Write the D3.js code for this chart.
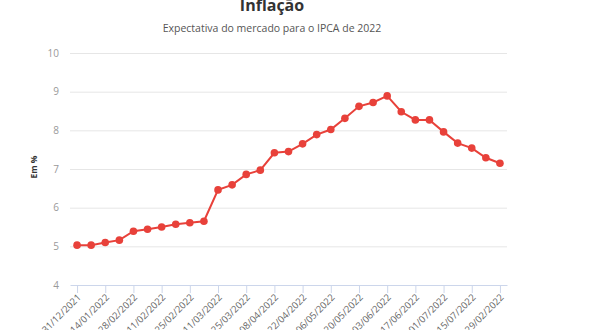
<!DOCTYPE html>
<html>
<head>
<meta charset="utf-8">
<script src="https://cdn.jsdelivr.net/npm/d3@7"></script>
<style>
  html, body { margin: 0; padding: 0; background: #fff; }
  svg { display: block; font-family: "Open Sans", sans-serif; }
</style>
</head>
<body>
<svg id="chart" width="590" height="330"></svg>
<script>
const tickLabels = ["31/12/2021","14/01/2022","28/02/2022","11/02/2022","25/02/2022","11/03/2022","25/03/2022","08/04/2022","22/04/2022","06/05/2022","20/05/2022","03/06/2022","17/06/2022","01/07/2022","15/07/2022","29/02/2022"];
const values = [5.03,5.03,5.10,5.16,5.39,5.44,5.50,5.57,5.61,5.65,6.46,6.59,6.86,6.97,7.42,7.45,7.65,7.89,8.02,8.31,8.62,8.72,8.89,8.48,8.27,8.27,7.96,7.67,7.54,7.29,7.15];
const yTicks = [4,5,6,7,8,9,10];
const title = "Inflação";
const subtitle = "Expectativa do mercado para o IPCA de 2022";
const yLabel = "Em %";

(function () {
const svg = d3.select("#chart");
const pLeft = 70, pRight = 507, pTop = 53, pBottom = 285;

const x = d3.scaleLinear().domain([-0.5, values.length - 0.5]).range([pLeft, pRight]);
const y = d3.scaleLinear().domain([4, 10]).range([pBottom, pTop]);

svg.append("text").attr("x", 272).attr("y", 11).attr("text-anchor", "middle")
  .attr("font-size", 16).attr("font-weight", "bold").attr("fill", "#333").text(title);
svg.append("text").attr("x", 272).attr("y", 32).attr("text-anchor", "middle")
  .attr("font-size", 10.5).attr("fill", "#555").text(subtitle);

// grid
const yAxis = d3.axisLeft(y).tickValues(yTicks).tickFormat(d3.format("d")).tickSize(-(pRight - pLeft)).tickPadding(11);
const gy = svg.append("g").attr("transform", `translate(${pLeft},0)`).call(yAxis);
gy.select(".domain").remove();
gy.selectAll(".tick line").attr("stroke", "#e6e6e6");
gy.selectAll(".tick text").attr("fill", "#999").attr("font-size", 10).attr("font-family", "Open Sans, sans-serif");
gy.selectAll(".tick").filter(d => d === 4).select("line").remove();

svg.append("text").attr("transform", `translate(37,${(pTop + pBottom) / 2 - 2}) rotate(-90)`)
  .attr("text-anchor", "middle").attr("font-size", 8.5).attr("font-weight", "bold").attr("fill", "#333").text(yLabel);

// x axis
const tickIdx = tickLabels.map((_, i) => i * 2);
const xAxis = d3.axisBottom(x).tickValues(tickIdx).tickFormat((d, i) => tickLabels[i]).tickSize(8).tickSizeOuter(0);
const gx = svg.append("g").attr("transform", `translate(0,${pBottom})`).call(xAxis);
gx.select(".domain").attr("stroke", "#ccd6eb");
gx.selectAll(".tick line").attr("stroke", "#ccd6eb");
gx.selectAll(".tick text").attr("fill", "#666").attr("font-size", 9.5).attr("font-family", "Open Sans, sans-serif")
  .attr("text-anchor", "end").attr("dy", null).attr("y", 0)
  .attr("transform", "translate(4,13) rotate(-45)");

// line
const line = d3.line().x((d, i) => x(i)).y(d => y(d));
svg.append("path").datum(values).attr("d", line).attr("fill", "none")
  .attr("stroke", "#e8413a").attr("stroke-width", 2);
svg.selectAll("circle.pt").data(values).join("circle").attr("class", "pt")
  .attr("cx", (d, i) => x(i)).attr("cy", d => y(d)).attr("r", 3.8).attr("fill", "#e8413a");
})();
</script>
</body>
</html>
